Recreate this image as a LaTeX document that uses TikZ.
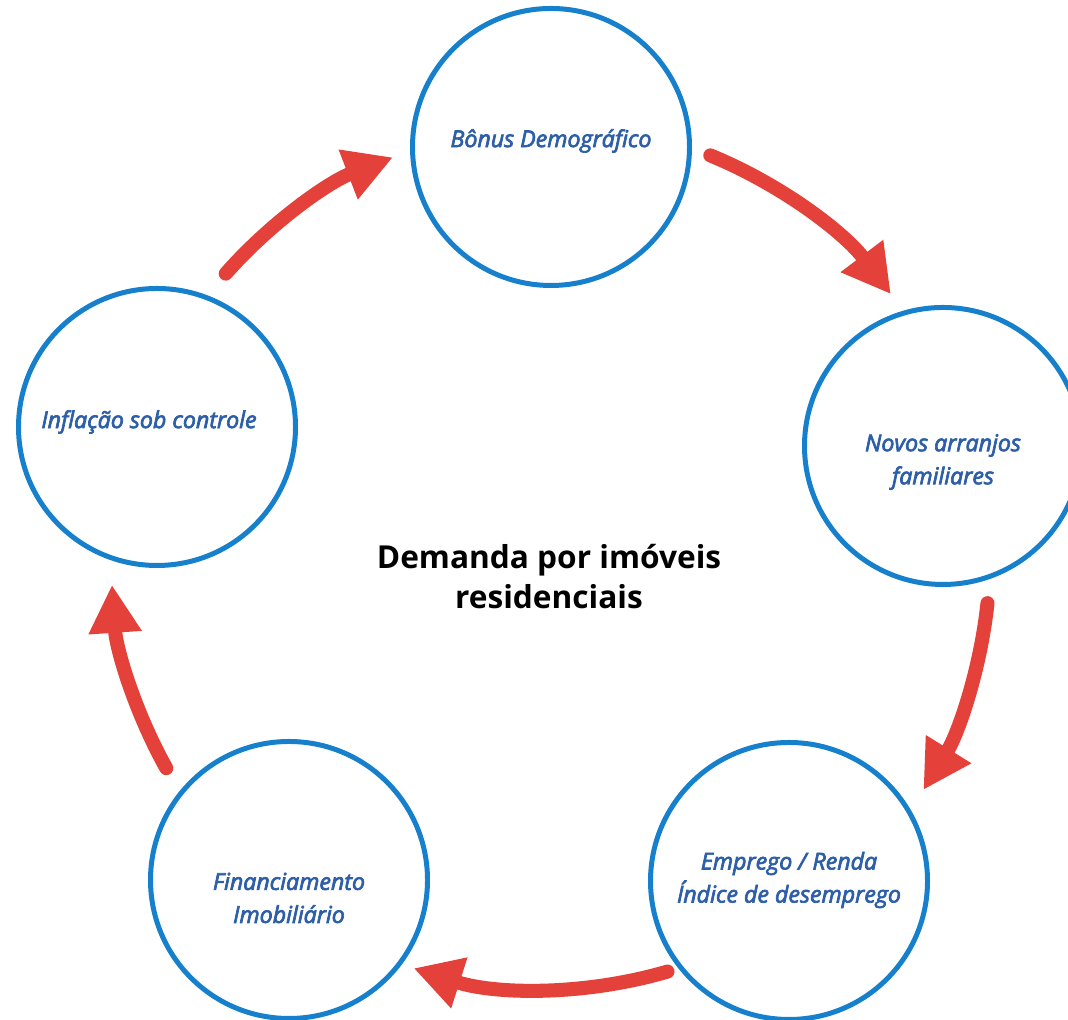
\documentclass[tikz,border=0pt]{standalone}
\usepackage{fontspec}
\setmainfont{Open Sans}
\newfontfamily\labelfont{Open Sans}[FakeBold=3]
\usetikzlibrary{arrows.meta}

\definecolor{ringblue}{RGB}{22,128,204}
\definecolor{textblue}{RGB}{45,94,168}
\definecolor{arrowred}{RGB}{228,65,58}

\tikzset{
  stage/.style={circle, draw=ringblue, line width=1.42pt, minimum size=2.77cm,
    inner sep=0pt},
  tag/.style={align=center, text=textblue, inner sep=0pt,
    font=\labelfont\itshape\fontsize{6.6pt}{9.4pt}\selectfont},
  flow/.style={draw=arrowred, line width=4pt, line cap=round,
    -{Triangle[length=0.48cm, width=0.5cm]}}
}

\begin{document}
\begin{tikzpicture}
\useasboundingbox (0, 0) rectangle (10.68, 10.20);

\coordinate (c) at (5.46, 4.64);

\node[stage] (bonus) at (5.51, 8.73) {};
\node[stage] (novos) at (9.43, 5.74) {};
\node[stage] (emprego) at (7.89, 1.39) {};
\node[stage] (financ) at (2.89, 1.40) {};
\node[stage] (inflacao) at (1.57, 5.93) {};

\node[tag] (bonus-t) at ([yshift=0.06cm]bonus) {Bônus Demográfico};
\node[tag] (novos-t) at ([yshift=-0.16cm]novos) {Novos arranjos\\familiares};
\node[tag] (emprego-t) at ([yshift=0.01cm]emprego) {Emprego / Renda\\Índice de desemprego};
\node[tag] (financ-t) at ([yshift=-0.18cm]financ) {Financiamento\\Imobiliário};
\node[tag] (inflacao-t) at ([xshift=-0.08cm, yshift=0.05cm]inflacao) {Inflação sob controle};

\node[align=center, font=\bfseries\fontsize{9pt}{11.4pt}\selectfont] (demanda) at (5.49, 4.43) {Demanda por imóveis\\residenciais};

\draw[flow] (c) ++(67.7:4.33) arc[start angle=67.7, end angle=37.2, radius=4.33];
\draw[flow] (c) ++(-6.1:4.44) arc[start angle=-6.1, end angle=-31.8, radius=4.44];
\draw[flow] (c) ++(-73.7:4.33) arc[start angle=-73.7, end angle=-107.8, radius=4.33];
\draw[flow] (c) ++(209.2:4.35) arc[start angle=209.2, end angle=183.8, radius=4.35];
\draw[flow] (c) ++(138.6:4.27) arc[start angle=138.6, end angle=111, radius=4.27];

\end{tikzpicture}
\end{document}
